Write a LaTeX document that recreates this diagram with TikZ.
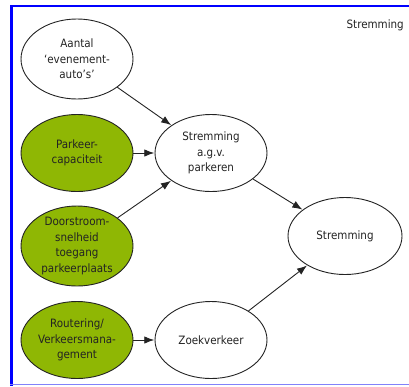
\documentclass[tikz,border=0pt]{standalone}
\usepackage{fontspec}
\setmainfont{DejaVu Sans Condensed}
\usetikzlibrary{arrows.meta,shapes.geometric}
\definecolor{leaf}{RGB}{143,183,4}
\definecolor{ink}{RGB}{35,35,35}
\definecolor{framelight}{RGB}{130,130,250}
\begin{document}
\begin{tikzpicture}[x=1pt, y=-1pt,
  oval/.style={ellipse, draw=ink, line width=0.9pt, minimum width=112pt, minimum height=77pt, inner sep=0pt},
  factor/.style={oval, fill=leaf},
  txt/.style={font=\fontsize{11.5}{15.5}\selectfont, text=ink, align=center, inner sep=0pt},
  link/.style={draw=ink, line width=0.9pt, -{Latex[length=10pt, width=7.5pt]}, shorten >=0.3pt}
]
\useasboundingbox (0,0) rectangle (409,386);
% frame
\draw[blue, line width=2.5pt] (10,6) -- (409,6);
\draw[blue, line width=3pt] (11,5) -- (11,386);
\draw[framelight, line width=1.5pt] (10,384.5) -- (409,384.5);
\node[txt, anchor=east] (title) at (404,25) {Stremming};

% causes
\node[oval, minimum height=80pt, label={[txt]center:Aantal\\‘evenement-\\auto’s’}] (aantal) at (77,59) {};
\node[factor, label={[txt]center:Parkeer-\\capaciteit}] (cap) at (77,153) {};
\node[factor, minimum height=80pt, label={[txt]center:Doorstroom-\\snelheid\\toegang\\parkeerplaats}] (door) at (77,246) {};
\node[factor, label={[txt]center:Routering/\\Verkeersmana-\\gement}] (rout) at (77,340) {};

% intermediate effects
\node[oval, label={[txt]center:Stremming\\a.g.v.\\parkeren}] (park) at (211,153) {};
\node[oval, label={[txt]center:Zoekverkeer}] (zoek) at (211,340) {};

% result
\node[oval, minimum width=114pt, label={[txt]center:Stremming}] (strem) at (345,236) {};

\draw[link] (aantal) -- (park);
\draw[link] (cap) -- (park);
\draw[link] (door) -- (park);
\draw[link] (rout) -- (zoek);
\draw[link] (park) -- (strem);
\draw[link] (zoek) -- (strem);
\end{tikzpicture}
\end{document}
